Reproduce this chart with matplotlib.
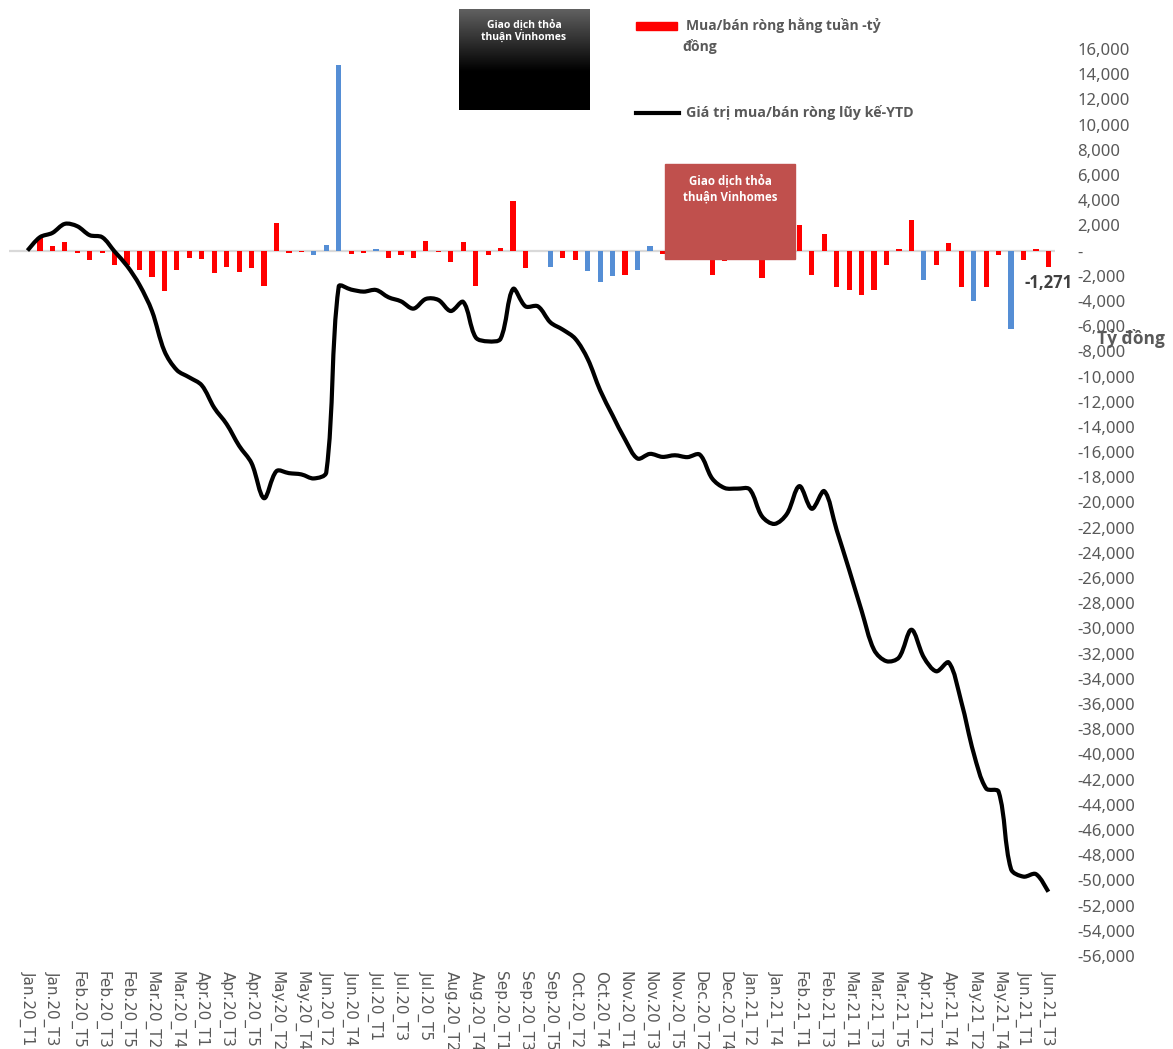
import numpy as np
import matplotlib
matplotlib.use('Agg')
import matplotlib.pyplot as plt
from matplotlib import font_manager
from matplotlib.patches import Rectangle, PathPatch
from matplotlib.path import Path
from matplotlib.lines import Line2D
from matplotlib.ticker import FuncFormatter


def pick_bold_family(candidates):
    # first family that really has a bold face installed
    for fam in candidates:
        try:
            path = font_manager.findfont(font_manager.FontProperties(family=fam, weight='bold'),
                                         fallback_to_default=False)
        except Exception:
            continue
        if 'bold' in path.lower():
            return fam
    return 'DejaVu Sans'


def smooth_path(ax, xs, ys):
    # Excel-like smoothed line: bezier through every point, tangents weighted by
    # the on-screen segment lengths so big jumps do not overshoot
    pts = ax.transData.transform(np.column_stack([xs, ys]).astype(float))
    n = len(pts)
    tang = np.zeros_like(pts)
    for i in range(n):
        tang[i] = pts[min(i + 1, n - 1)] - pts[max(i - 1, 0)]
    seg = np.linalg.norm(np.diff(pts, axis=0), axis=1)
    verts = [pts[0]]
    codes = [Path.MOVETO]
    for i in range(n - 1):
        d_prev = seg[i - 1] if i > 0 else seg[i]
        d_next = seg[i + 1] if i < n - 2 else seg[i]
        w_out = seg[i] / (d_prev + seg[i])
        w_in = seg[i] / (seg[i] + d_next)
        c1 = pts[i] + tang[i] * w_out / 3
        c2 = pts[i + 1] - tang[i + 1] * w_in / 3
        verts += [c1, c2, pts[i + 1]]
        codes += [Path.CURVE4] * 3
    verts = ax.transData.inverted().transform(np.array(verts))
    return Path(verts, codes)


BOLD = pick_bold_family(['Noto Sans', 'Open Sans', 'Roboto', 'Liberation Sans'])
plt.rcParams['font.family'] = ['Noto Sans', 'DejaVu Sans']

W, H = 1173, 1049

# every second week is labelled on the axis
tick_labels = ['Jan.20_T1', 'Jan.20_T3', 'Feb.20_T5', 'Feb.20_T3', 'Feb.20_T5', 'Mar.20_T2',
               'Mar.20_T4', 'Apr.20_T1', 'Apr.20_T3', 'Apr.20_T5', 'May.20_T2', 'May.20_T4',
               'Jun.20_T2', 'Jun.20_T4', 'Jul.20_T1', 'Jul.20_T3', 'Jul.20_T5', 'Aug.20_T2',
               'Aug.20_T4', 'Sep.20_T1', 'Sep.20_T3', 'Sep.20_T5', 'Oct.20_T2', 'Oct.20_T4',
               'Nov.20_T1', 'Nov.20_T3', 'Nov.20_T5', 'Dec.20_T2', 'Dec.20_T4', 'Jan.21_T2',
               'Jan.21_T4', 'Feb.21_T1', 'Feb.21_T3', 'Mar.21_T1', 'Mar.21_T3', 'Mar.21_T5',
               'Apr.21_T2', 'Apr.21_T4', 'May.21_T2', 'May.21_T4', 'Jun.21_T1', 'Jun.21_T3']

# weekly net buy/sell (ty dong)
weekly = [0, 1060, 345, 715, -185, -715, -160, -1140, -1140, -1510,
          -2070, -3180, -1510, -580, -635, -1775, -1300, -1720, -1380, -2780,
          2150, -160, -100, -320, 480, 14750, -240, -160, 130, -580,
          -320, -580, 770, -80, -875, 715, -2810, -320, 210, 3950,
          -1380, 0, -1270, -580, -715, -1615, -2490, -1990, -1910, -1510,
          370, -240, 100, -150, 100, -1910, -795, -50, -50, -2170,
          -600, 800, 2040, -1910, 1325, -2860, -3100, -3525, -3100, -1140,
          130, 2440, -2300, -1140, 610, -2860, -4000, -2860, -320, -6230,
          -715, 130, -1271]

# cumulative YTD value
ytd = [0, 1060, 1400, 2120, 1930, 1220, 1060, -80, -1220, -2730,
       -4800, -7980, -9490, -10070, -10700, -12480, -13780, -15500, -16880, -19660,
       -17510, -17670, -17770, -18090, -17610, -2860, -3100, -3260, -3130, -3710,
       -4030, -4610, -3840, -3920, -4800, -4080, -6890, -7210, -7000, -3050,
       -4430, -4430, -5700, -6280, -7000, -8610, -11100, -13090, -15000, -16510,
       -16140, -16380, -16250, -16400, -16200, -18100, -18850, -18900, -18950, -21100,
       -21700, -20900, -18700, -20500, -19100, -22200, -25350, -28600, -31700, -32600,
       -32300, -30100, -32300, -33400, -32700, -35800, -39900, -42700, -42950, -49100,
       -49700, -49500, -50900]

# weeks drawn in blue
blue_weeks = [23, 24, 25, 28, 42, 45, 46, 47, 49, 50, 72, 76, 79]

legend_bar = 'Mua/bán ròng hằng tuần -tỷ'
legend_bar2 = 'đồng'
legend_line = 'Giá trị mua/bán ròng lũy kế-YTD'
box_text = 'Giao dịch thỏa\nthuận Vinhomes'
unit = 'Tỷ đồng'

GRAY = '#595959'
bold = dict(family=[BOLD, 'DejaVu Sans'], fontweight='bold')

fig = plt.figure(figsize=(W / 100, H / 100), dpi=100)
ax = fig.add_axes([8.8 / W, 1 - 956 / H, 1045.8 / W, 907 / H])

x = np.arange(len(weekly))
ax.set_xlim(-1.5, len(x) - 0.5)
ax.set_ylim(-56000, 16000)

colors = ['#558ED5' if i in blue_weeks else '#FF0000' for i in x]
ax.axhline(0, color='#D9D9D9', lw=1.6, zorder=1)
ax.bar(x, weekly, width=0.42, color=colors, zorder=2)
ax.add_patch(PathPatch(smooth_path(ax, x, ytd), fill=False, edgecolor='black', lw=3,
                       joinstyle='round', capstyle='butt', zorder=3))

ax.annotate('{:,}'.format(weekly[-1]), xy=(x[-1], weekly[-1]), xytext=(0, -12),
            textcoords='offset points', ha='center', va='center',
            fontsize=12, color='#404040', **bold)

ax.set_yticks(np.arange(-56000, 16001, 2000))
ax.yaxis.set_major_formatter(FuncFormatter(lambda v, p: '-' if v == 0 else '{:,.0f}'.format(v)))
ax.yaxis.tick_right()
ax.tick_params(axis='y', length=0, pad=16.5, labelsize=12, labelcolor=GRAY)

ax.set_xticks(x[::2])
ax.set_xticklabels(tick_labels, rotation=-90, fontsize=11, color=GRAY, family='DejaVu Sans')
ax.tick_params(axis='x', length=0, pad=11)
for s in ax.spines.values():
    s.set_visible(False)

fig.text(1131 / W, 1 - 338 / H, unit, ha='center', va='center', fontsize=12.5,
         color=GRAY, **bold)

# legend
fig.add_artist(Rectangle((636 / W, 1 - 29.5 / H), 41 / W, 7.5 / H,
                         transform=fig.transFigure, color='#FF0000'))
fig.text(686 / W, 1 - 25.7 / H, legend_bar, va='center', fontsize=10, color=GRAY, **bold)
fig.text(682 / W, 1 - 46.7 / H, legend_bar2, va='center', fontsize=10, color=GRAY, **bold)
fig.add_artist(Line2D([636 / W, 679 / W], [1 - 113 / H] * 2, lw=3, color='black',
                      transform=fig.transFigure))
fig.text(686 / W, 1 - 112 / H, legend_line, va='center', fontsize=10.3, color=GRAY, **bold)

# dark gradient box
bax = fig.add_axes([459 / W, 1 - 110 / H, 130 / W, 101 / H], zorder=5)
t = np.linspace(0, 1, 200)
grad = np.clip(0.38 * (1 - t / 0.62), 0, 1)[:, None]
bax.imshow(grad, cmap='gray', vmin=0, vmax=1, aspect='auto', extent=[0, 1, 0, 1])
bax.axis('off')
bax.text(0.5, 0.78, box_text, ha='center', va='center', fontsize=7.5,
         color='white', linespacing=1.15, **bold)

# red box
fig.add_artist(Rectangle((665 / W, 1 - 259 / H), 130 / W, 95 / H,
                         transform=fig.transFigure, color='#C0504D', zorder=4))
fig.text(730 / W, 1 - 188.5 / H, box_text, ha='center', va='center', fontsize=8.3,
         color='white', linespacing=1.3, zorder=5, **bold)

fig.savefig('out.png', dpi=100)
